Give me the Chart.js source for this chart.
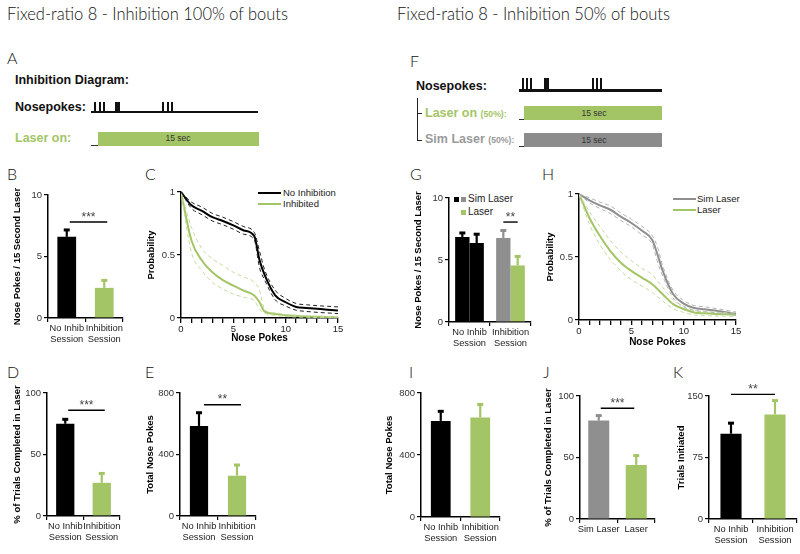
<!DOCTYPE html>
<html><head><meta charset="utf-8">
<script src="https://cdn.jsdelivr.net/npm/chart.js@4.4.1/dist/chart.umd.min.js"></script>
<style>
html,body{margin:0;padding:0;background:#fff}
#fig{position:relative;width:800px;height:554px;overflow:hidden;font-family:"Liberation Sans",Arial,sans-serif;color:#111}
#fig canvas{position:absolute}
.t{position:absolute;white-space:nowrap;line-height:1.2}
.thin{font-family:Lato,"Open Sans",sans-serif;font-weight:300;color:#111}
.s{position:absolute}
</style></head><body><div id="fig"></div>
<script>
// ---------------- colours ----------------
const GREEN = '#a3c566', GREEN_D = '#c4da9f';
const GRAY = '#8f8f8f', GRAY_D = '#b3b3b3';
const BLACK = '#000000';

// ---------------- data ----------------
const sessionLabels = [['No Inhib', 'Session'], ['Inhibition', 'Session']];
const laserLabels = ['Sim Laser', 'Laser'];

const bMean = [6.6, 2.45], bErr = [7.2, 3.1], bSig = 7.8;
const dMean = [75, 27], dErr = [79, 35], dSig = 86;
const eMean = [585, 262], eErr = [675, 335], eSig = 724;
const gSimMean = [6.86, 6.78], gSimErr = [7.22, 7.42];
const gLaserMean = [6.37, 4.56], gLaserErr = [7.12, 5.33], gSig = 8.06;
const iMean = [620, 642], iErr = [685, 729];
const jMean = [80, 44], jErr = [84.5, 52], jSig = 90;
const kMean = [104, 127.5], kErr = [117.5, 145], kSig = 152;

const ticks10 = [0, 5, 10], ticks100 = [0, 50, 100], ticks800 = [0, 400, 800], ticks150 = [0, 75, 150], ticksP = [0, 0.5, 1];

const pokeX = [0, 1, 2, 3, 4, 5, 6, 7, 7.5, 8, 9, 10, 11, 12, 13, 14, 15];
const cNoInhib   = [1, 0.894, 0.85, 0.80, 0.77, 0.735, 0.695, 0.65, 0.46, 0.34, 0.18, 0.125, 0.088, 0.08, 0.073, 0.066, 0.06];
const cNoInhibHi = [1, 0.92, 0.88, 0.83, 0.80, 0.765, 0.725, 0.68, 0.53, 0.38, 0.22, 0.155, 0.115, 0.105, 0.098, 0.093, 0.088];
const cNoInhibLo = [1, 0.87, 0.82, 0.77, 0.74, 0.705, 0.665, 0.62, 0.40, 0.30, 0.145, 0.095, 0.062, 0.052, 0.045, 0.04, 0.035];
const cInhib     = [1, 0.615, 0.456, 0.363, 0.30, 0.257, 0.217, 0.178, 0.125, 0.05, 0.032, 0.021, 0.016, 0.012, 0.01, 0.008, 0.006];
const cInhibHi   = [1, 0.72, 0.55, 0.47, 0.416, 0.363, 0.324, 0.284, 0.22, 0.064, 0.04, 0.028, 0.022, 0.018, 0.015, 0.013, 0.012];
const cInhibLo   = [1, 0.52, 0.377, 0.284, 0.23, 0.19, 0.165, 0.138, 0.07, 0.037, 0.021, 0.012, 0.008, 0.006, 0.004, 0.003, 0.002];

const hSim      = [1, 0.95, 0.91, 0.875, 0.82, 0.77, 0.71, 0.635, 0.52, 0.39, 0.205, 0.13, 0.095, 0.085, 0.075, 0.062, 0.05];
const hSimHi    = [1, 0.97, 0.935, 0.905, 0.85, 0.80, 0.745, 0.67, 0.58, 0.43, 0.235, 0.155, 0.115, 0.105, 0.092, 0.078, 0.063];
const hSimLo    = [1, 0.93, 0.885, 0.845, 0.79, 0.74, 0.675, 0.60, 0.46, 0.35, 0.175, 0.105, 0.075, 0.066, 0.058, 0.047, 0.038];
const hLaser    = [1, 0.81, 0.666, 0.547, 0.455, 0.39, 0.337, 0.284, 0.245, 0.205, 0.126, 0.087, 0.06, 0.053, 0.048, 0.045, 0.042];
const hLaserHi  = [1, 0.86, 0.74, 0.63, 0.54, 0.47, 0.41, 0.36, 0.31, 0.26, 0.16, 0.11, 0.078, 0.068, 0.062, 0.058, 0.055];
const hLaserLo  = [1, 0.76, 0.60, 0.48, 0.39, 0.32, 0.27, 0.22, 0.185, 0.15, 0.09, 0.06, 0.04, 0.035, 0.032, 0.03, 0.03];

// ---------------- helpers ----------------
const fig = document.getElementById('fig');
const FONT = '"Liberation Sans", Arial, sans-serif';
Chart.defaults.font.family = FONT;

function txt(html, x, yc, fs, o = {}) {
  const d = document.createElement('div');
  d.className = 't' + (o.cls ? ' ' + o.cls : '');
  d.innerHTML = html;
  d.style.fontSize = fs + 'px';
  d.style.left = x + 'px';
  d.style.top = (yc - 0.6 * fs) + 'px';
  if (o.color) d.style.color = o.color;
  if (o.bold) d.style.fontWeight = 'bold';
  if (o.center) d.style.transform = 'translateX(-50%)';
  fig.appendChild(d);
  if (o.fitWidth) {
    const w = d.getBoundingClientRect().width;
    d.style.transformOrigin = 'left center';
    d.style.transform = 'scaleX(' + (o.fitWidth / w) + ')';
  }
  return d;
}
function rect(x, y, w, h, c) {
  const d = document.createElement('div');
  d.className = 's';
  Object.assign(d.style, {left: x + 'px', top: y + 'px', width: w + 'px', height: h + 'px', background: c});
  fig.appendChild(d);
}

const errPlugin = {
  id: 'errbars',
  afterDatasetsDraw(chart) {
    const ctx = chart.ctx, ys = chart.scales.y;
    chart.data.datasets.forEach((ds, i) => {
      if (!ds.errTop) return;
      chart.getDatasetMeta(i).data.forEach((el, j) => {
        const col = Array.isArray(ds.backgroundColor) ? ds.backgroundColor[j] : ds.backgroundColor;
        const yT = ys.getPixelForValue(ds.errTop[j]);
        ctx.save();
        ctx.strokeStyle = col; ctx.fillStyle = col; ctx.lineWidth = 2.2;
        ctx.beginPath(); ctx.moveTo(el.x, el.y); ctx.lineTo(el.x, yT); ctx.stroke();
        ctx.fillRect(el.x - 3, yT - 1, 6, 3);
        ctx.restore();
      });
    });
  }
};
Chart.register(errPlugin);

function sigPlugin(a, b, value, dx1, dx2, stars) {
  return {
    id: 'sig',
    afterDraw(chart) {
      const ea = chart.getDatasetMeta(a[0]).data[a[1]];
      const eb = chart.getDatasetMeta(b[0]).data[b[1]];
      const y = chart.scales.y.getPixelForValue(value);
      const x1 = ea.x + dx1, x2 = eb.x + dx2;
      const ctx = chart.ctx;
      ctx.save();
      ctx.strokeStyle = '#000'; ctx.lineWidth = 1.4;
      ctx.beginPath(); ctx.moveTo(x1, y); ctx.lineTo(x2, y); ctx.stroke();
      ctx.restore();
      if (!chart.$starsDone) {
        chart.$starsDone = true;
        const r = chart.canvas.getBoundingClientRect(), f = fig.getBoundingClientRect();
        const d = txt(stars, r.left - f.left + (x1 + x2) / 2, 0, 12, {center: true, color: '#444'});
        d.style.top = (r.top - f.top + y - 12.4) + 'px';
      }
    }
  };
}

function mount(geo, cfg) {
  const PT = 16, PR = 8;
  const cl = Math.round(geo.tx - 6);
  const yw = geo.L - cl;
  const w = geo.R - geo.L + yw + PR;
  const h = geo.B - geo.T + PT + geo.xh;
  const cv = document.createElement('canvas');
  cv.width = w; cv.height = h;
  cv.style.left = cl + 'px'; cv.style.top = (geo.T - PT) + 'px';
  cv.style.width = w + 'px'; cv.style.height = h + 'px';
  fig.appendChild(cv);
  cfg.options.layout = {padding: {top: PT, right: PR, left: 0, bottom: 0}};
  cfg.options.responsive = false;
  cfg.options.animation = false;
  cfg.options.devicePixelRatio = 1;
  cfg.options.events = [];
  cfg.options.scales.y.afterFit = s => { s.width = yw; s.paddingTop = 0; s.paddingBottom = 0; };
  cfg.options.scales.x.afterFit = s => { s.height = geo.xh; s.paddingLeft = 0; s.paddingRight = 0; };
  return new Chart(cv, cfg);
}

function yAxis(max, tickVals, title) {
  return {
    type: 'linear', min: 0, max: max,
    afterBuildTicks: s => { s.ticks = tickVals.map(v => ({value: v})); },
    ticks: {callback: v => String(v), font: {size: 9.5}, color: '#333', padding: 2},
    grid: {drawOnChartArea: false, drawTicks: true, tickLength: 4, color: '#000', lineWidth: 1.2},
    border: {display: true, color: '#000', width: 1.5},
    title: {display: true, text: title, font: {size: 9.5, weight: 'bold'}, color: '#000', padding: 0}
  };
}
function catAxis(labels) {
  return {
    type: 'category', labels: labels, offset: true,
    ticks: {font: {size: 9.3}, color: '#222', padding: 1, maxRotation: 0, autoSkip: false},
    grid: {offset: true, drawOnChartArea: false, drawTicks: true, tickLength: 4, color: '#000', lineWidth: 1.2},
    border: {display: true, color: '#000', width: 1.5}
  };
}
function barChart(geo, labels, datasets, yMax, yTicks, title, sig) {
  const cfg = {
    type: 'bar',
    data: {labels: labels, datasets: datasets},
    options: {
      plugins: {legend: {display: false}, tooltip: {enabled: false}},
      scales: {x: catAxis(labels), y: yAxis(yMax, yTicks, title)}
    },
    plugins: sig ? [sig] : []
  };
  return mount(geo, cfg);
}
function lineDs(ys, color, dashed) {
  return {
    data: pokeX.map((x, i) => ({x: x, y: ys[i]})),
    borderColor: color, borderWidth: dashed ? 1 : 2, borderDash: dashed ? [4, 3] : [],
    pointRadius: 0, cubicInterpolationMode: 'monotone', fill: false
  };
}
function lineChart(geo, datasets) {
  const cfg = {
    type: 'line',
    data: {datasets: datasets},
    options: {
      plugins: {legend: {display: false}, tooltip: {enabled: false}},
      scales: {
        x: {
          type: 'linear', min: 0, max: 15,
          ticks: {stepSize: 1, autoSkip: false, maxRotation: 0, callback: v => (v % 5 === 0 ? String(v) : ''), font: {size: 9.5}, color: '#222', padding: 1},
          grid: {drawOnChartArea: false, drawTicks: true, tickLength: 5, color: '#000', lineWidth: 1.3},
          border: {display: true, color: '#000', width: 1.5},
          title: {display: true, text: 'Nose Pokes', font: {size: 10, weight: 'bold'}, color: '#000', padding: 0}
        },
        y: yAxis(1, ticksP, 'Probability')
      }
    }
  };
  return mount(geo, cfg);
}

// ---------------- headings & letters ----------------
txt('Fixed-ratio 8 - Inhibition 100% of bouts', 7, 13.5, 17.5, {cls: 'thin', fitWidth: 281});
txt('Fixed-ratio 8 - Inhibition 50% of bouts', 397, 13.5, 17.5, {cls: 'thin', fitWidth: 273});
[['A', 7, 57.5], ['F', 410, 61], ['B', 7, 174], ['C', 145, 174], ['G', 410, 174], ['H', 542, 174],
 ['D', 7, 372], ['E', 145, 372], ['I', 409, 372], ['J', 543, 372], ['K', 673, 372]]
  .forEach(([s, x, y]) => txt(s, x, y, 16, {cls: 'thin'}));

// ---------------- diagram A ----------------
txt('Inhibition Diagram:', 15, 80, 12.5, {bold: true});
txt('Nosepokes:', 15, 107.5, 12.5, {bold: true});
rect(91, 110.5, 167, 2.5, '#111');
[[94, 2], [98.5, 2], [103, 2], [115, 5], [162, 2], [166.5, 2], [171, 2]].forEach(([x, w]) => rect(x, 102, w, 10, '#111'));
txt('Laser on:', 15, 138.5, 12.5, {bold: true, color: GREEN});
rect(98, 132, 161, 14, GREEN);
rect(91, 144.5, 7, 1.5, '#333');
txt('15 sec', 178, 138.5, 8.5, {center: true, color: '#333'});

// ---------------- diagram F ----------------
txt('Nosepokes:', 416, 86, 12.5, {bold: true});
rect(519, 89, 143, 2.5, '#111');
[[522, 2], [526, 2], [530, 2], [544, 5], [591.5, 2], [595.5, 2], [599.5, 2]].forEach(([x, w]) => rect(x, 78, w, 12, '#111'));
rect(416.5, 98, 1.5, 43, '#222');
rect(416.5, 112.5, 5, 1.5, '#222');
rect(416.5, 139.5, 5, 1.5, '#222');
txt('Laser on <span style="font-size:8.7px">(50%):</span>', 425, 113, 12.5, {bold: true, color: GREEN});
rect(524, 106, 138, 14, GREEN);
rect(519, 118.5, 5, 1.5, '#333');
txt('15 sec', 594, 113, 8.5, {center: true, color: '#333'});
txt('Sim Laser <span style="font-size:8.7px">(50%):</span>', 425, 139.5, 12.5, {bold: true, color: '#9a9a9a'});
rect(524, 133, 138, 14, '#8c8c8c');
rect(519, 145.5, 5, 1.5, '#333');
txt('15 sec', 594, 140, 8.5, {center: true, color: '#333'});

// ---------------- legends ----------------
rect(258, 192, 23, 2, BLACK); txt('No Inhibition', 283, 193, 9.5, {color: '#222'});
rect(258, 203, 23, 2, GREEN); txt('Inhibited', 283, 204, 9.5, {color: '#222'});
rect(673, 198, 23, 2, GRAY); txt('Sim Laser', 697, 199, 9.5, {color: '#222'});
rect(673, 209, 23, 2, GREEN); txt('Laser', 697, 210, 9.5, {color: '#222'});
rect(454, 196.5, 5, 5, BLACK); rect(461, 196.5, 5, 5, GRAY); txt('Sim Laser', 468, 199, 10, {color: '#222'});
rect(461, 209.5, 5, 5, GREEN); txt('Laser', 468, 212, 10, {color: '#222'});

// ---------------- charts ----------------
const NPTITLE = 'Nose Pokes / 15 Second Laser', PCTTITLE = '% of Trials Completed in Laser';

barChart({L: 48, R: 123, T: 195, B: 318, tx: 18, xh: 30}, sessionLabels,
  [{data: bMean, errTop: bErr, backgroundColor: [BLACK, GREEN], barPercentage: 0.5, categoryPercentage: 1}],
  10, ticks10, NPTITLE, sigPlugin([0, 0], [0, 1], bSig, 3, 3, '***'));

lineChart({L: 181, R: 338, T: 192, B: 318, tx: 152, xh: 26}, [
  lineDs(cNoInhibHi, '#222', true), lineDs(cNoInhibLo, '#222', true),
  lineDs(cInhibHi, GREEN_D, true), lineDs(cInhibLo, GREEN_D, true),
  lineDs(cInhib, GREEN, false), lineDs(cNoInhib, BLACK, false)
]);

barChart({L: 47, R: 120, T: 393, B: 516, tx: 18, xh: 30}, sessionLabels,
  [{data: dMean, errTop: dErr, backgroundColor: [BLACK, GREEN], barPercentage: 0.5, categoryPercentage: 1}],
  100, ticks100, PCTTITLE, sigPlugin([0, 0], [0, 1], dSig, 3, 3, '***'));

barChart({L: 180, R: 256, T: 393, B: 516, tx: 151, xh: 30}, sessionLabels,
  [{data: eMean, errTop: eErr, backgroundColor: [BLACK, GREEN], barPercentage: 0.48, categoryPercentage: 1}],
  800, ticks800, 'Total Nose Pokes', sigPlugin([0, 0], [0, 1], eSig, 5, 4, '**'));

barChart({L: 449, R: 531, T: 198, B: 322, tx: 419, xh: 30}, sessionLabels,
  [{label: 'Sim Laser', data: gSimMean, errTop: gSimErr, backgroundColor: [BLACK, GRAY], barPercentage: 1, categoryPercentage: 0.7},
   {label: 'Laser', data: gLaserMean, errTop: gLaserErr, backgroundColor: [BLACK, GREEN], barPercentage: 1, categoryPercentage: 0.7}],
  10, ticks10, NPTITLE, sigPlugin([0, 1], [1, 1], gSig, 0, 0, '**'));

lineChart({L: 579, R: 736, T: 194, B: 320, tx: 551, xh: 28}, [
  lineDs(hSimHi, GRAY_D, true), lineDs(hSimLo, GRAY_D, true),
  lineDs(hLaserHi, GREEN_D, true), lineDs(hLaserLo, GREEN_D, true),
  lineDs(hLaser, GREEN, false), lineDs(hSim, GRAY, false)
]);

barChart({L: 421, R: 500, T: 393, B: 517, tx: 390, xh: 30}, sessionLabels,
  [{data: iMean, errTop: iErr, backgroundColor: [BLACK, GREEN], barPercentage: 0.5, categoryPercentage: 1}],
  800, ticks800, 'Total Nose Pokes', null);

barChart({L: 580, R: 655, T: 396, B: 519, tx: 549, xh: 30}, laserLabels,
  [{data: jMean, errTop: jErr, backgroundColor: [GRAY, GREEN], barPercentage: 0.56, categoryPercentage: 1}],
  100, ticks100, PCTTITLE, sigPlugin([0, 0], [0, 1], jSig, 2, -2, '***'));

barChart({L: 709, R: 797, T: 396, B: 519, tx: 682, xh: 30}, sessionLabels,
  [{data: kMean, errTop: kErr, backgroundColor: [BLACK, GREEN], barPercentage: 0.48, categoryPercentage: 1}],
  150, ticks150, 'Trials Initiated', sigPlugin([0, 0], [0, 1], kSig, 0, 0, '**'));
</script></body></html>
